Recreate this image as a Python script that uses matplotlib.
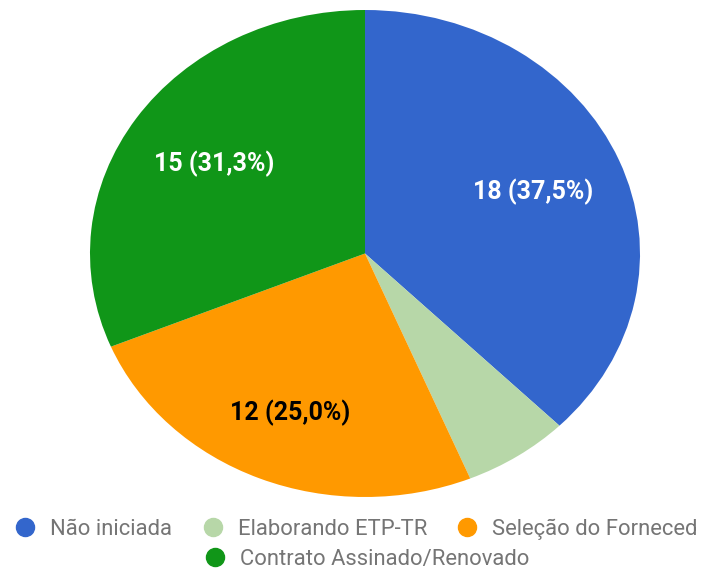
import numpy as np
import matplotlib.pyplot as plt
from matplotlib.lines import Line2D
from matplotlib.transforms import Bbox

plt.rcParams['font.family'] = ['Roboto', 'DejaVu Sans']

# Data
categorias = ['Não iniciada', 'Elaborando ETP-TR', 'Seleção do Fornecedor', 'Contrato Assinado/Renovado']
valores = [18, 3, 12, 15]
cores = ['#3366CC', '#B7D7A8', '#FF9900', '#109618']
cor_rotulo = ['white', 'black', 'black', 'white']
dist_rotulo = [0.66, 0.66, 0.71, 0.66]

total = sum(valores)


def fmt(pct):
    # slices below ~10% have no label in the original
    if pct < 10:
        return ''
    n = int(round(pct * total / 100.0))
    p = int(pct * 10 + 0.5 + 1e-9) / 10.0  # round half up, like the source
    return '%d (%s%%)' % (n, ('%.1f' % p).replace('.', ','))


W, H = 717, 575
fig = plt.figure(figsize=(W / 100, H / 100), dpi=100)

# pie is stretched horizontally in the reference
ax = fig.add_axes([90 / W, 1 - 497 / H, 550 / W, 487 / H])
wedges, texts, autotexts = ax.pie(valores, colors=cores, startangle=90, counterclock=False,
                                  autopct=fmt, pctdistance=0.66, radius=1,
                                  wedgeprops=dict(linewidth=0))
for w, t, c, d in zip(wedges, autotexts, cor_rotulo, dist_rotulo):
    ang = np.deg2rad((w.theta1 + w.theta2) / 2)
    t.set_position((d * np.cos(ang), d * np.sin(ang)))
    t.set_color(c)
    t.set_fontsize(18)
    t.set_fontweight('bold')
ax.set_aspect('auto')
ax.set_xlim(-1, 1)
ax.set_ylim(-1, 1)
ax.axis('off')

# legend, drawn by hand so that the rows are laid out as in the reference
# (the source chart cuts the legend off at about x=697)
clip = Bbox.from_extents(0, 0, 697, H)
pos = [(25, 527), (213, 527), (467, 527), (215, 557)]
for (px, py), lab, c in zip(pos, categorias, cores):
    fig.add_artist(Line2D([px / W], [1 - py / H], marker='o', markersize=13, color=c,
                          linestyle='', transform=fig.transFigure))
    t = fig.text((px + 25) / W, 1 - py / H, lab, fontsize=15.8, color='#757575',
                 ha='left', va='center_baseline')
    t.set_clip_box(clip)
    t.set_clip_on(True)

fig.savefig('out.png', dpi=100)
